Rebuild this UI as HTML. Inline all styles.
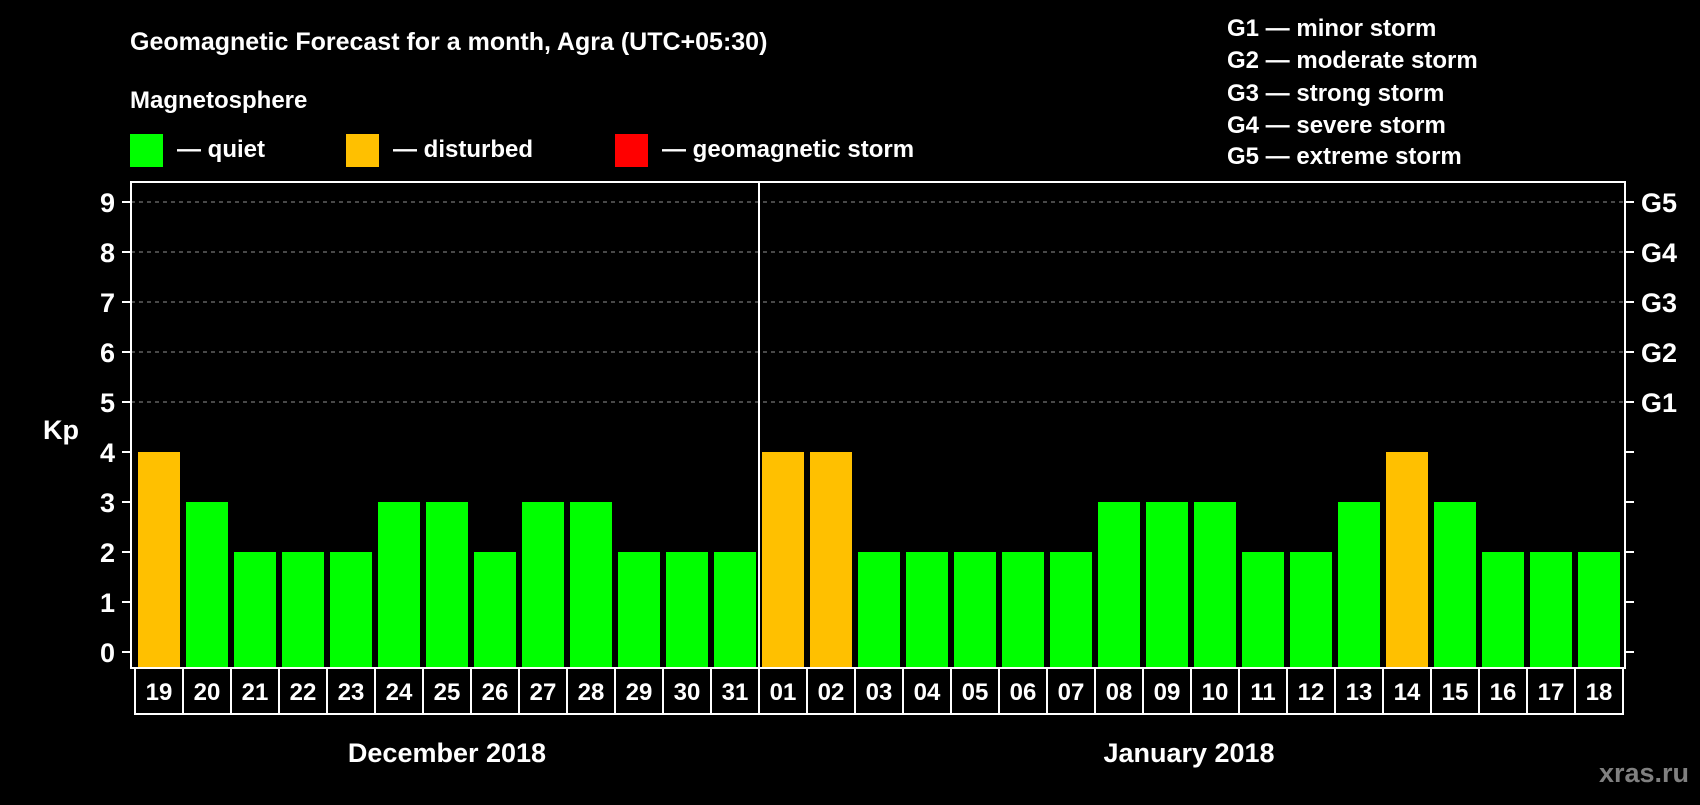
<!DOCTYPE html>
<html><head><meta charset="utf-8"><style>
body{margin:0;background:#000;}
svg text{font-family:"Liberation Sans",sans-serif;font-weight:bold;fill:#fff;}
</style></head><body>
<svg id="c" width="1700" height="800">
<rect width="1700" height="800" fill="#000"/>
<text x="130" y="50" font-size="25">Geomagnetic Forecast for a month, Agra (UTC+05:30)</text>
<text x="130" y="108" font-size="24">Magnetosphere</text>
<rect x="130" y="134" width="33" height="33" fill="#00ff00"/>
<text x="177" y="157" font-size="24">— quiet</text>
<rect x="346" y="134" width="33" height="33" fill="#ffc000"/>
<text x="393" y="157" font-size="24">— disturbed</text>
<rect x="615" y="134" width="33" height="33" fill="#ff0000"/>
<text x="662" y="157" font-size="24">— geomagnetic storm</text>
<g font-size="24">
<text x="1227" y="36">G1 — minor storm</text>
<text x="1227" y="68">G2 — moderate storm</text>
<text x="1227" y="101">G3 — strong storm</text>
<text x="1227" y="133">G4 — severe storm</text>
<text x="1227" y="164">G5 — extreme storm</text>
</g>
<text x="43" y="439" font-size="27">Kp</text>
<g id="marks"></g>
<text x="447" y="762" font-size="27" text-anchor="middle">December 2018</text>
<text x="1189" y="762" font-size="27" text-anchor="middle">January 2018</text>
<text x="1689" y="782" font-size="27" text-anchor="end" style="fill:#808080">xras.ru</text>
</svg>
<script>
const days=["19","20","21","22","23","24","25","26","27","28","29","30","31","01","02","03","04","05","06","07","08","09","10","11","12","13","14","15","16","17","18"];
const kp=[4,3,2,2,2,3,3,2,3,3,2,2,2,4,4,2,2,2,2,2,3,3,3,2,2,3,4,3,2,2,2];
const yTicks=[0,1,2,3,4,5,6,7,8,9];
const gLabels=["G1","G2","G3","G4","G5"];
const gLevels=[5,6,7,8,9];
const L=131,R=1625,T=182,B=668,slot=48,x0=135;
const y=v=>652-v*50;
const x=i=>x0+i*slot;
const NS="http://www.w3.org/2000/svg";
const g=document.getElementById('marks');
function mk(t,a){const e=document.createElementNS(NS,t);for(const k in a)e.setAttribute(k,a[k]);g.appendChild(e);return e;}
gLevels.forEach((v,i)=>{
 const l=mk('line',{x1:L,x2:R,y1:y(v),y2:y(v),stroke:'#909090','stroke-width':1,'stroke-dasharray':'4,4'});
 
 
 const t=mk('text',{x:1641,y:y(v)+10,'font-size':27});
 t.textContent=gLabels[i];
 
 
});
yTicks.forEach(v=>{
 const a=mk('line',{x1:122,x2:L,y1:y(v),y2:y(v),stroke:'#fff','stroke-width':2});
 
 
 const b=mk('line',{x1:R,x2:R+9,y1:y(v),y2:y(v),stroke:'#fff','stroke-width':2});
 
 
 const t=mk('text',{x:115,y:y(v)+10,'font-size':27,'text-anchor':'end'});
 t.textContent=v;
 
 
});
kp.forEach((v,i)=>{
 const r=mk('rect',{x:x(i)+3,y:y(v),width:42,height:B-1-y(v),fill:v>=5?'#ff0000':(v>=4?'#ffc000':'#00ff00')});
 
 
 const bx=mk('rect',{x:x(i),y:B,width:slot,height:46,fill:'none',stroke:'#fff','stroke-width':2});
 
 
 const t=mk('text',{x:x(i)+slot/2,y:B+32,'font-size':24,'text-anchor':'middle'});
 t.textContent=days[i];
 
 
});
const fr=mk('rect',{x:L,y:T,width:R-L,height:B-T,fill:'none',stroke:'#fff','stroke-width':2});


const dv=mk('line',{x1:x(13),x2:x(13),y1:T,y2:B,stroke:'#fff','stroke-width':2});


</script>
</body></html>
